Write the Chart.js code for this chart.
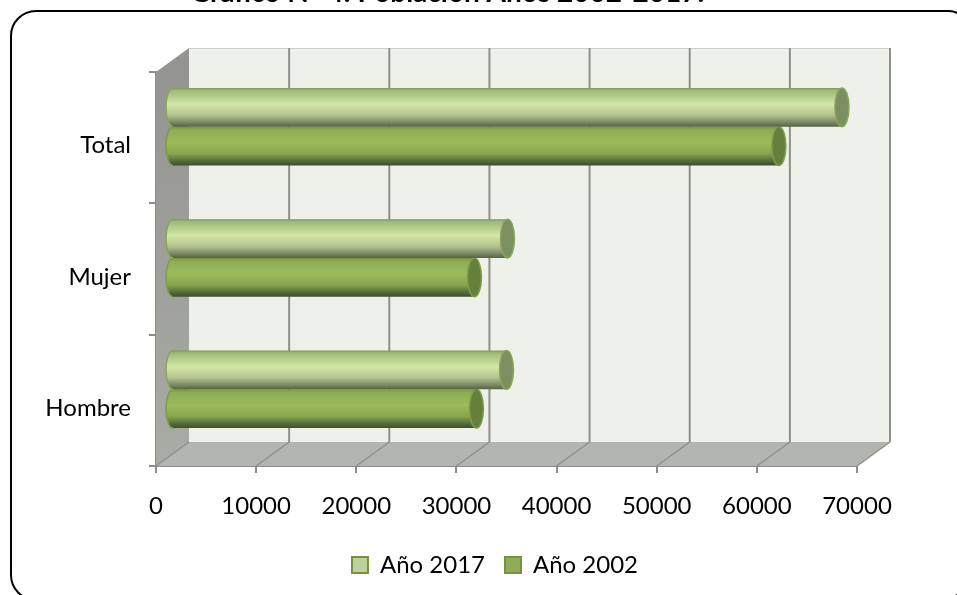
<!DOCTYPE html>
<html lang="es">
<head>
<meta charset="utf-8">
<title>Gráfico N° 4</title>
<script src="https://cdn.jsdelivr.net/npm/chart.js@4"></script>
<style>
    html, body { margin: 0; padding: 0; background: #fff; overflow: hidden; }
    canvas { display: block; }
</style>
</head>
<body>
<canvas id="poblacionChart" width="957" height="595"></canvas>
<script>
// Data
const categories = ['Total', 'Mujer', 'Hombre'];
const anio2017 = [66900, 33500, 33400];
const anio2002 = [60600, 30200, 30400];
const seriesNames = ['Año 2017', 'Año 2002'];
const xMax = 70000;
const xStep = 10000;

const FONT = 'Lato, Carlito, Calibri, sans-serif';
const CATEGORY_PCT = 0.59;

// 3D look: back wall offset and bar offset from the front plane
const WALL_DX = 33, WALL_DY = -24;
const BAR_DX = 16, BAR_DY = -11;
const CAP_RX = 7;

const barStops = [
    [[0, '#7d9755'], [0.06, '#9fb877'], [0.42, '#d3e6a6'], [0.7, '#b3c48f'], [0.88, '#7f8a68'], [1, '#56633f']],
    [[0, '#76913f'], [0.08, '#8fac54'], [0.42, '#9dbb5b'], [0.7, '#88a44d'], [0.9, '#52663a'], [1, '#3f4f2a']]
];
const capFill = ['#7b8f60', '#66803c'];
const capStroke = ['#8aa657', '#7f9c4a'];
const swatchFill = ['#bcd19b', '#8fac58'];
const swatchStroke = '#76923c';

// Vertical gradient for one bar, worked out from the category scale
function barGradient(context) {
    const chart = context.chart;
    const yScale = chart.scales.y;
    if (!yScale || context.dataIndex === undefined) return swatchFill[context.datasetIndex];
    const center = yScale.getPixelForValue(context.dataIndex);
    const thick = (yScale.height / categories.length) * CATEGORY_PCT / 2;
    const top = center - thick + context.datasetIndex * thick;
    const g = chart.ctx.createLinearGradient(0, top, 0, top + thick);
    barStops[context.datasetIndex].forEach(s => g.addColorStop(s[0], s[1]));
    return g;
}

// Outer frame, cut by the page on the right and at the bottom
const framePlugin = {
    id: 'frame',
    beforeDraw(chart) {
        const ctx = chart.ctx;
        ctx.save();
        ctx.strokeStyle = '#000';
        ctx.lineWidth = 2;
        ctx.beginPath();
        ctx.roundRect(11, 11, 956, 589, [25, 18, 25, 25]);
        ctx.stroke();
        ctx.restore();
    }
};

// Side wall, floor and back wall, placed from the scales
const wallsPlugin = {
    id: 'walls',
    beforeDatasetsDraw(chart) {
        const { ctx, scales: { x, y } } = chart;
        const left = x.getPixelForValue(0), right = x.getPixelForValue(xMax);
        const top = y.top, bottom = y.bottom;
        ctx.save();

        ctx.fillStyle = '#eef1ea';
        ctx.fillRect(left + WALL_DX, top + WALL_DY, right - left, bottom - top);
        ctx.strokeStyle = '#cfcfcb';
        ctx.lineWidth = 1;
        ctx.beginPath();
        ctx.moveTo(left + WALL_DX, top + WALL_DY + 0.5);
        ctx.lineTo(right + WALL_DX, top + WALL_DY + 0.5);
        ctx.stroke();

        const side = ctx.createLinearGradient(0, top, 0, bottom);
        side.addColorStop(0, '#949590');
        side.addColorStop(1, '#a9aba5');
        ctx.fillStyle = side;
        ctx.beginPath();
        ctx.moveTo(left, top);
        ctx.lineTo(left + WALL_DX, top + WALL_DY);
        ctx.lineTo(left + WALL_DX, bottom + WALL_DY);
        ctx.lineTo(left, bottom);
        ctx.closePath();
        ctx.fill();

        ctx.fillStyle = '#b3b6ae';
        ctx.beginPath();
        ctx.moveTo(left, bottom);
        ctx.lineTo(left + WALL_DX, bottom + WALL_DY);
        ctx.lineTo(right + WALL_DX, bottom + WALL_DY);
        ctx.lineTo(right, bottom);
        ctx.closePath();
        ctx.fill();

        // grid lines on the back wall and across the floor
        ctx.strokeStyle = '#8f8f8b';
        x.ticks.forEach(t => {
            const px = x.getPixelForValue(t.value);
            ctx.lineWidth = 1.5;
            ctx.beginPath();
            ctx.moveTo(px, bottom);
            ctx.lineTo(px + WALL_DX, bottom + WALL_DY);
            ctx.stroke();
            if (t.value > 0) {
                ctx.lineWidth = 2;
                ctx.beginPath();
                ctx.moveTo(px + WALL_DX, bottom + WALL_DY);
                ctx.lineTo(px + WALL_DX, top + WALL_DY);
                ctx.stroke();
            }
        });
        ctx.restore();
    }
};

// Turns the flat bars into cylinders: rounded start, elliptical end cap
const cylinderPlugin = {
    id: 'cylinder',
    beforeDatasetDraw(chart, args) {
        const ctx = chart.ctx;
        ctx.save();
        ctx.translate(BAR_DX, BAR_DY);
        args.meta.data.forEach(bar => {
            ctx.fillStyle = bar.options.backgroundColor;
            ctx.strokeStyle = capStroke[args.index];
            ctx.lineWidth = 1.5;
            ctx.beginPath();
            ctx.ellipse(bar.base, bar.y, CAP_RX, bar.height / 2, 0, 0, Math.PI * 2);
            ctx.fill();
            ctx.stroke();
        });
    },
    afterDatasetDraw(chart, args) {
        const ctx = chart.ctx;
        args.meta.data.forEach(bar => {
            ctx.fillStyle = capFill[args.index];
            ctx.strokeStyle = capStroke[args.index];
            ctx.lineWidth = 1.5;
            ctx.beginPath();
            ctx.ellipse(bar.x, bar.y, CAP_RX, bar.height / 2, 0, 0, Math.PI * 2);
            ctx.fill();
            ctx.stroke();
        });
        ctx.restore();
    }
};

// Title and legend are centred on their own spots, not on the plot box
const placementPlugin = {
    id: 'placement',
    afterLayout(chart) {
        chart.titleBlock.left = 0;
        chart.titleBlock.right = 894;
        chart.legend.left = 0;
        chart.legend.right = 990;
        chart.legend.top -= 8;
        chart.legend.bottom -= 8;
    }
};

new Chart(document.getElementById('poblacionChart'), {
    type: 'bar',
    data: {
        labels: categories,
        datasets: [
            { label: seriesNames[0], data: anio2017 },
            { label: seriesNames[1], data: anio2002 }
        ]
    },
    options: {
        indexAxis: 'y',
        responsive: false,
        animation: false,
        clip: false,
        categoryPercentage: CATEGORY_PCT,
        barPercentage: 1,
        backgroundColor: barGradient,
        borderWidth: 0,
        layout: { padding: { top: 20, right: 100, bottom: 0, left: 0 } },
        scales: {
            x: {
                min: 0,
                max: xMax,
                ticks: {
                    stepSize: xStep,
                    maxRotation: 0,
                    autoSkip: false,
                    color: '#000',
                    padding: 19,
                    font: { family: FONT, size: 24 },
                    callback: value => String(value)
                },
                grid: { drawOnChartArea: false, color: '#8c8c8c', tickLength: 7, lineWidth: 2 },
                border: { color: '#8c8c8c', width: 2 },
                afterFit(scale) { scale.height = 75; }
            },
            y: {
                ticks: {
                    color: '#000',
                    padding: 18,
                    labelOffset: 8,
                    font: { family: FONT, size: 24 }
                },
                grid: { drawOnChartArea: false, offset: true, color: '#8c8c8c', tickLength: 7, lineWidth: 2 },
                border: { color: '#8c8c8c', width: 2 },
                afterFit(scale) { scale.width = 156; }
            }
        },
        plugins: {
            title: {
                display: true,
                text: 'Gráfico N° 4: Población Años 2002-2017.',
                color: '#000',
                font: { family: FONT, size: 28, weight: 'bold' },
                padding: { top: -44, bottom: 62.4 }
            },
            legend: {
                position: 'bottom',
                labels: {
                    color: '#000',
                    boxWidth: 16,
                    boxHeight: 16,
                    padding: 20,
                    font: { family: FONT, size: 24 },
                    generateLabels() {
                        return seriesNames.map((name, i) => ({
                            text: name,
                            fillStyle: swatchFill[i],
                            strokeStyle: swatchStroke,
                            lineWidth: 2,
                            datasetIndex: i
                        }));
                    }
                }
            },
            tooltip: { enabled: false }
        }
    },
    plugins: [framePlugin, wallsPlugin, cylinderPlugin, placementPlugin]
});
</script>
</body>
</html>
